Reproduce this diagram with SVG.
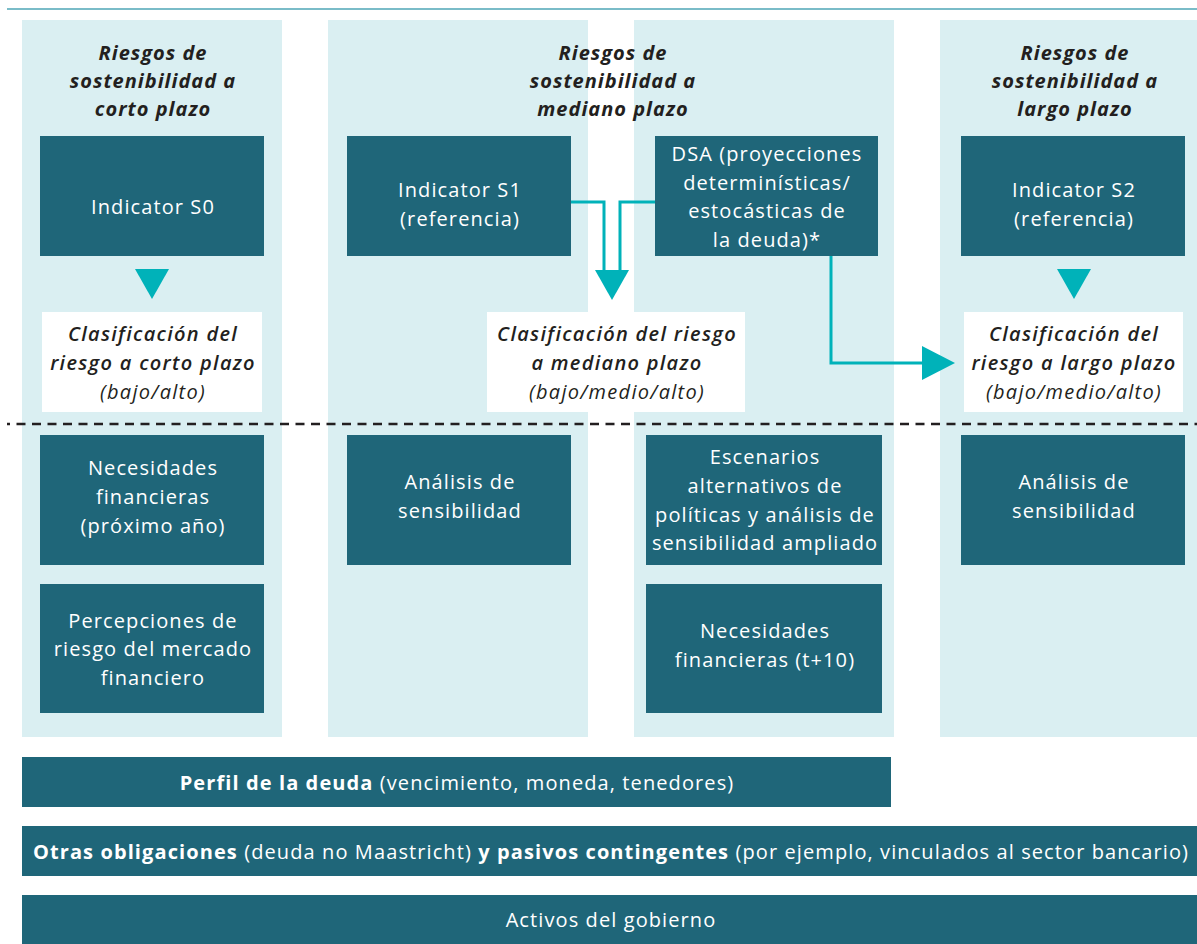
<svg xmlns="http://www.w3.org/2000/svg" width="1197" height="944" viewBox="0 0 1197 944">
<defs>
<style>
.bg{fill:#daeff2}
.box{fill:#1f6679}
.wbox{fill:#ffffff}
.t{font-family:"Open Sans","Liberation Sans",sans-serif;font-size:20px;letter-spacing:1.1px;fill:#ffffff;text-anchor:middle}
.h{font-family:"Open Sans","Liberation Sans",sans-serif;font-size:20px;letter-spacing:1px;font-weight:bold;font-style:italic;fill:#231f20;text-anchor:middle}
.c{font-family:"Open Sans","Liberation Sans",sans-serif;font-size:20px;letter-spacing:1.3px;font-weight:600;font-style:italic;fill:#231f20;text-anchor:middle}
.ci{font-family:"Open Sans","Liberation Sans",sans-serif;font-size:20px;letter-spacing:1.3px;font-style:italic;fill:#231f20;text-anchor:middle}
.b{font-weight:bold}
.conn{fill:none;stroke:#00b2b9;stroke-width:3}
.head{fill:#00b2b9}
</style>
</defs>
<rect width="1197" height="944" fill="#ffffff"/>
<line x1="7" y1="9" x2="1197" y2="9" stroke="#4ea6b6" stroke-width="1.5"/>
<g id="columns">
<rect class="bg" x="22" y="20" width="260" height="717"/>
<rect class="bg" x="328" y="20" width="260" height="717"/>
<rect class="bg" x="634" y="20" width="260" height="717"/>
<rect class="bg" x="940" y="20" width="257" height="717"/>
</g>
<g id="titles">
<text class="h" x="153" y="60">Riesgos de</text>
<text class="h" x="153" y="88">sostenibilidad a</text>
<text class="h" x="153" y="116">corto plazo</text>
<text class="h" x="613" y="60">Riesgos de</text>
<text class="h" x="613" y="88">sostenibilidad a</text>
<text class="h" x="613" y="116">mediano plazo</text>
<text class="h" x="1075" y="60">Riesgos de</text>
<text class="h" x="1075" y="88">sostenibilidad a</text>
<text class="h" x="1075" y="116">largo plazo</text>
</g>
<g id="s0"><rect class="box" x="40" y="136" width="224" height="120"/><text class="t" x="153" y="214">Indicator S0</text></g>
<g id="s1"><rect class="box" x="347" y="136" width="224" height="120"/><text class="t" x="460" y="197">Indicator S1</text><text class="t" x="460" y="226">(referencia)</text></g>
<g id="dsa"><rect class="box" x="655" y="136" width="223" height="120"/><text class="t" x="767" y="161">DSA (proyecciones</text><text class="t" x="767" y="190">determinísticas/</text><text class="t" x="767" y="218">estocásticas de</text><text class="t" x="767" y="247">la deuda)*</text></g>
<g id="s2"><rect class="box" x="961" y="136" width="224" height="120"/><text class="t" x="1074" y="197">Indicator S2</text><text class="t" x="1074" y="226">(referencia)</text></g>
<g id="clas-corto"><rect class="wbox" x="42" y="312" width="220" height="100"/><text class="c" x="153" y="341">Clasificación del</text><text class="c" x="153" y="370">riesgo a corto plazo</text><text class="ci" x="153" y="399">(bajo/alto)</text></g>
<g id="clas-mediano"><rect class="wbox" x="487" y="312" width="258" height="100"/><text class="c" x="617" y="341">Clasificación del riesgo</text><text class="c" x="617" y="370">a mediano plazo</text><text class="ci" x="617" y="399">(bajo/medio/alto)</text></g>
<g id="clas-largo"><rect class="wbox" x="964" y="312" width="219" height="100"/><text class="c" x="1074" y="341">Clasificación del</text><text class="c" x="1074" y="370">riesgo a largo plazo</text><text class="ci" x="1074" y="399">(bajo/medio/alto)</text></g>
<g id="connectors">
<polygon class="head" points="135,269 169,269 152,299"/>
<polygon class="head" points="1057,269 1091,269 1074,299"/>
<polyline class="conn" points="571,202 604,202 604,274"/>
<polyline class="conn" points="655,202 620,202 620,274"/>
<polygon class="head" points="595,270 629,270 612,300"/>
<polyline class="conn" points="831,256 831,363 926,363"/>
<polygon class="head" points="922,346 955,363 922,380"/>
</g>
<line x1="7" y1="424" x2="1197" y2="424" stroke="#231f20" stroke-width="2.5" stroke-dasharray="9 6.5" stroke-dashoffset="6"/>
<g id="nec1"><rect class="box" x="40" y="435" width="224" height="130"/><text class="t" x="153" y="475">Necesidades</text><text class="t" x="153" y="504">financieras</text><text class="t" x="153" y="533">(próximo año)</text></g>
<g id="perc"><rect class="box" x="40" y="584" width="224" height="129"/><text class="t" x="153" y="628">Percepciones de</text><text class="t" x="153" y="656">riesgo del mercado</text><text class="t" x="153" y="685">financiero</text></g>
<g id="sens1"><rect class="box" x="347" y="435" width="224" height="130"/><text class="t" x="460" y="489">Análisis de</text><text class="t" x="460" y="518">sensibilidad</text></g>
<g id="esc"><rect class="box" x="646" y="435" width="236" height="130"/><text class="t" x="765" y="464">Escenarios</text><text class="t" x="765" y="493">alternativos de</text><text class="t" x="765" y="522">políticas y análisis de</text><text class="t" x="765" y="550">sensibilidad ampliado</text></g>
<g id="nec10"><rect class="box" x="646" y="584" width="236" height="129"/><text class="t" x="765" y="638">Necesidades</text><text class="t" x="765" y="667">financieras (t+10)</text></g>
<g id="sens2"><rect class="box" x="961" y="435" width="224" height="130"/><text class="t" x="1074" y="489">Análisis de</text><text class="t" x="1074" y="518">sensibilidad</text></g>
<g id="perfil"><rect class="box" x="22" y="757" width="869" height="50"/><text class="t" x="457" y="790"><tspan class="b">Perfil de la deuda</tspan> (vencimiento, moneda, tenedores)</text></g>
<g id="otras"><rect class="box" x="22" y="826" width="1175" height="50"/><text class="t" x="611" y="859"><tspan class="b">Otras obligaciones</tspan> (deuda no Maastricht) <tspan class="b">y pasivos contingentes</tspan> (por ejemplo, vinculados al sector bancario)</text></g>
<g id="activos"><rect class="box" x="22" y="895" width="1175" height="49"/><text class="t" x="611" y="927">Activos del gobierno</text></g>
</svg>
